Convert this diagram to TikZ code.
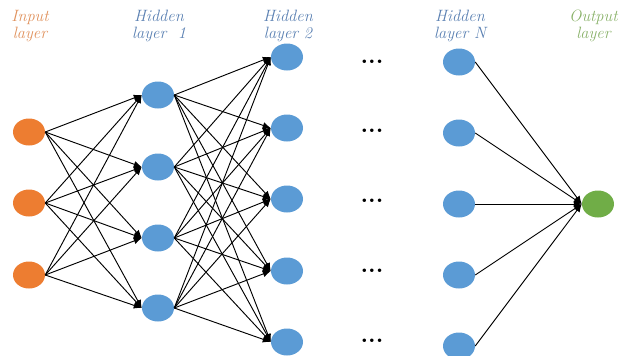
\documentclass[tikz,border=0pt]{standalone}
\usetikzlibrary{arrows.meta, positioning, shapes.geometric}
\definecolor{InOrange}{HTML}{ED7D31}
\definecolor{HidBlue}{HTML}{5B9BD5}
\definecolor{OutGreen}{HTML}{70AD47}
\definecolor{InText}{HTML}{E0915C}
\definecolor{HidText}{HTML}{5A80B2}
\definecolor{OutText}{HTML}{8AB26A}

\begin{document}
\begin{tikzpicture}[x=0.03cm, y=-0.03cm,
    neuron/.style={ellipse, minimum width=0.96cm, minimum height=0.81cm, inner sep=0pt},
    conn/.style={-{Latex[length=2.4mm,width=2mm]}, line width=0.8pt},
    lbl/.style={align=center, font=\fontsize{14}{14.5}\selectfont\itshape}]
    \useasboundingbox (0,0) rectangle (620,355);

    % Input layer (orange)
    \foreach \i/\y in {1/132, 2/203, 3/275}
        \node[neuron, fill=InOrange] (in\i) at (29,\y) {};
    \node[lbl, InText] (inlbl) at (30,26) {Input\\layer};

    % Hidden layer 1
    \foreach \i/\y in {1/95, 2/167, 3/238, 4/308}
        \node[neuron, fill=HidBlue] (ha\i) at (158,\y) {};
    \node[lbl, HidText] (halbl) at (159,26) {Hidden\\layer\ \ 1};

    % Hidden layer 2
    \foreach \i/\y in {1/57, 2/128, 3/199, 4/271, 5/342}
        \node[neuron, fill=HidBlue] (hb\i) at (287,\y) {};
    \node[lbl, HidText] (hblbl) at (288,26) {Hidden\\layer 2};

    % Skipped layers
    \foreach \i/\y in {1/62, 2/131, 3/201, 4/271, 5/341}
        \node[font=\bfseries\huge, inner sep=0pt] (dots\i) at (372,\y) {...};

    % Hidden layer N
    \foreach \i/\y in {1/62, 2/133, 3/204, 4/275, 5/346}
        \node[neuron, fill=HidBlue] (hn\i) at (459,\y) {};
    \node[lbl, HidText] (hnlbl) at (460,26) {Hidden\\layer N};

    % Output layer
    \node[neuron, fill=OutGreen] (out) at (598,204) {};
    \node[lbl, OutText, anchor=east, inner sep=1pt] (outlbl) at (619,26) {Output\\layer};

    % Connections
    \foreach \i in {1,...,3}
        \foreach \j in {1,...,4}
            \draw[conn] (in\i.east) -- (ha\j.west);
    \foreach \i in {1,...,4}
        \foreach \j in {1,...,5}
            \draw[conn] (ha\i.east) -- (hb\j.west);
    \foreach \i in {1,...,5}
        \draw[conn] (hn\i.east) -- (out.west);

\end{tikzpicture}
\end{document}
